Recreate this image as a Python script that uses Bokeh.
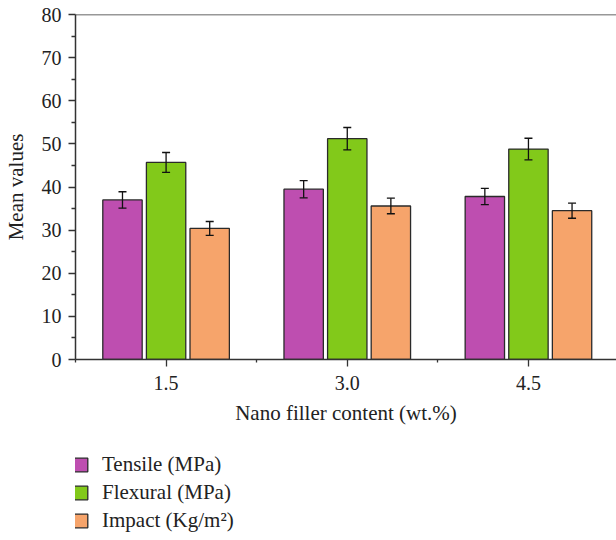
from bokeh.plotting import figure
from bokeh.layouts import column
from bokeh.models import (ColumnDataSource, Range1d, FixedTicker, Whisker, TeeHead,
                          Legend, LegendItem, Span, NumeralTickFormatter)
from bokeh.embed import file_html
from bokeh.resources import INLINE

# ---- data ----
contents = [1.5, 3.0, 4.5]
minor_x = [0.75, 2.25, 3.75, 5.25]
tensile = [37.0, 39.5, 37.8]
tensile_err = [1.9, 2.0, 1.9]
flexural = [45.7, 51.2, 48.8]
flexural_err = [2.3, 2.6, 2.5]
impact = [30.4, 35.6, 34.5]
impact_err = [1.6, 1.8, 1.75]
series_names = ["Tensile (MPa)", "Flexural (MPa)", "Impact (Kg/m\u00b2)"]
colors = ["#BE4EB0", "#82C91A", "#F6A46B"]
y_ticks = list(range(0, 81, 10))
y_minor = list(range(5, 80, 10))

FONT = "Liberation Serif"
TEXT = "#222222"
offset = 0.361
bar_w = 0.326

p = figure(width=616, height=430,
           x_range=Range1d(0.75, 5.229), y_range=Range1d(0, 80),
           output_backend="svg", toolbar_location=None,
           min_border_left=74, min_border_right=0, min_border_top=14,
           min_border_bottom=71)
p.outline_line_color = None
p.grid.visible = False

# legend strip below the chart (its frame is aligned with the chart frame)
lg = figure(width=616, height=110, x_range=Range1d(0.75, 5.229), y_range=Range1d(0, 80),
            output_backend="svg", toolbar_location=None,
            x_axis_type=None, y_axis_type=None,
            min_border_left=74, min_border_right=0, min_border_top=0, min_border_bottom=0)
lg.outline_line_color = None
lg.grid.visible = False

series = [(tensile, tensile_err), (flexural, flexural_err), (impact, impact_err)]
items = []
for i, ((vals, errs), col, name) in enumerate(zip(series, colors, series_names)):
    xs = [c + (i - 1) * offset for c in contents]
    src = ColumnDataSource(dict(
        x=xs, top=vals,
        upper=[v + e for v, e in zip(vals, errs)],
        lower=[v - e for v, e in zip(vals, errs)]))
    p.vbar(x="x", top="top", width=bar_w, bottom=0, source=src,
           fill_color=col, line_color="#2a2a2a", line_width=1.3)
    w = Whisker(base="x", upper="upper", lower="lower", source=src,
                line_color="#111111", line_width=1.3, level="annotation",
                upper_head=TeeHead(size=8, line_color="#111111", line_width=1.3),
                lower_head=TeeHead(size=8, line_color="#111111", line_width=1.3))
    p.add_layout(w)
    # hidden copy in the legend strip; only its legend swatch is shown
    r = lg.vbar(x="x", top="top", width=bar_w, bottom=0, source=src,
                fill_color=col, line_color="#2a2a2a", line_width=1.3)
    r.visible = False
    items.append(LegendItem(label=name, renderers=[r]))

p.add_layout(Span(location=80, dimension="width", line_color="#333333", line_width=1.5))

for ax in (p.xaxis[0], p.yaxis[0]):
    ax.axis_line_color = "#333333"
    ax.axis_line_width = 1.5
    ax.major_tick_line_color = "#333333"
    ax.minor_tick_line_color = "#333333"
    ax.major_tick_line_width = 1.3
    ax.minor_tick_line_width = 1.3
    ax.major_tick_in = 0
    ax.major_tick_out = 7
    ax.minor_tick_in = 0
    ax.major_label_text_font = FONT
    ax.major_label_text_font_size = "20px"
    ax.major_label_text_color = TEXT
    ax.axis_label_text_font = FONT
    ax.axis_label_text_font_size = "21px"
    ax.axis_label_text_font_style = "normal"
    ax.axis_label_text_color = TEXT

p.xaxis.ticker = FixedTicker(ticks=contents, minor_ticks=minor_x)
p.xaxis.formatter = NumeralTickFormatter(format="0.0")
p.xaxis.minor_tick_out = 3
p.xaxis.major_label_standoff = 9
p.xaxis.axis_label = "Nano filler content (wt.%)"
p.xaxis.axis_label_standoff = 8

p.yaxis.ticker = FixedTicker(ticks=y_ticks, minor_ticks=y_minor)
p.yaxis.minor_tick_out = 4
p.yaxis.major_label_standoff = 7
p.yaxis.axis_label = "Mean values"
p.yaxis.axis_label_standoff = 11

legend = Legend(items=items, location=(-3, 6), orientation="vertical",
                border_line_color=None, background_fill_alpha=0,
                inactive_fill_alpha=0,
                padding=0, margin=0, spacing=0,
                glyph_width=17, glyph_height=17, label_height=28,
                label_standoff=13,
                label_text_font=FONT, label_text_font_size="21px",
                label_text_color=TEXT)
lg.add_layout(legend, "center")

layout = column(p, lg, spacing=0)
open("out.html", "w").write(file_html(layout, INLINE))
